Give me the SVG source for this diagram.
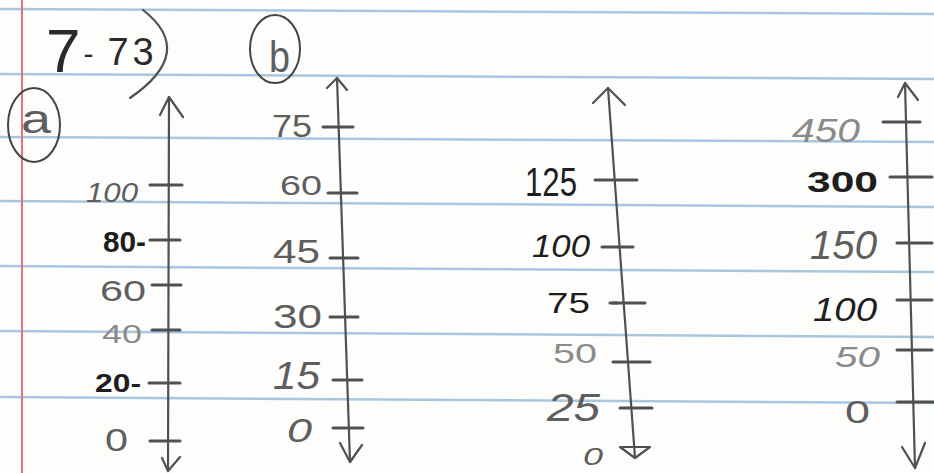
<svg xmlns="http://www.w3.org/2000/svg" width="934" height="473" viewBox="0 0 934 473">
<style>
.rule{stroke:#a8c6de;stroke-width:2.5;fill:none}
.margin{stroke:#e5707e;stroke-width:2;fill:none}
.ax{stroke:#505050;stroke-width:2.2;fill:none;stroke-linecap:round;stroke-linejoin:round}
.tk{stroke:#505050;stroke-width:3;fill:none;stroke-linecap:round}
.t{font-family:"Liberation Sans","DejaVu Sans",sans-serif}
.g{fill:#5e5e5e}
.lg{fill:#8a8a8a}
.k{fill:#1e1e1e}
.b{font-weight:bold}
.i{font-style:italic}
</style>
<rect x="0" y="0" width="934" height="473" fill="#fdfdfb"/>
<g id="paper">
<line class="rule" x1="0" y1="9" x2="934" y2="14"/>
<line class="rule" x1="0" y1="74" x2="934" y2="79"/>
<line class="rule" x1="0" y1="137" x2="934" y2="142"/>
<line class="rule" x1="0" y1="201" x2="934" y2="207"/>
<line class="rule" x1="0" y1="266" x2="934" y2="272"/>
<line class="rule" x1="0" y1="331" x2="934" y2="337"/>
<line class="rule" x1="0" y1="397" x2="934" y2="403"/>
<line class="margin" x1="22" y1="0" x2="22" y2="473"/>
</g>
<g id="title">
<text class="t" fill="#2a2a2a" x="46" y="72"><tspan font-size="62">7</tspan><tspan font-size="30" dx="3" dy="-8">-</tspan><tspan font-size="38" dx="14" dy="1" letter-spacing="4">73</tspan></text>
<path class="ax" d="M143,10 Q197,52 130,98" stroke="#333"/>
</g>
<g id="label-a">
<ellipse cx="34" cy="125" rx="26" ry="37" fill="none" stroke="#444" stroke-width="2"/>
<text class="t g" font-size="40" x="21" y="133" textLength="30" lengthAdjust="spacingAndGlyphs">a</text>
</g>
<g id="label-b">
<ellipse cx="275" cy="49" rx="25" ry="34" fill="none" stroke="#444" stroke-width="2"/>
<text class="t g" font-size="44" x="269" y="72" textLength="21" lengthAdjust="spacingAndGlyphs">b</text>
</g>
<g id="axis-a">
<path class="ax" d="M169,97 L168,470"/>
<path class="ax" d="M160,115 L169,97 L183,117"/>
<path class="ax" d="M162,458 L168,471 L180,457"/>
<path class="tk" d="M150,185 H182 M150,240 H180 M152,285 H181 M152,330 H180 M149,383 H180 M150,441 H180"/>
<text class="t g i" font-size="28" x="86" y="202" textLength="52" lengthAdjust="spacingAndGlyphs">100</text>
<text class="t k b" font-size="30" x="103" y="252" textLength="43" lengthAdjust="spacingAndGlyphs">80-</text>
<text class="t g" font-size="30" x="100" y="301" textLength="46" lengthAdjust="spacingAndGlyphs">60</text>
<text class="t lg" font-size="26" x="102" y="343" textLength="40" lengthAdjust="spacingAndGlyphs">40</text>
<text class="t k b" font-size="25" x="95" y="392" textLength="46" lengthAdjust="spacingAndGlyphs">20-</text>
<text class="t g" font-size="32" x="105" y="451" textLength="23" lengthAdjust="spacingAndGlyphs">0</text>
</g>
<g id="axis-b">
<path class="ax" d="M337,78 L350,462"/>
<path class="ax" d="M327,88 L337,78 L347,90"/>
<path class="ax" d="M340,443 L350,462 L362,445"/>
<path class="tk" d="M323,127 H353 M328,193 H357 M330,258 H358 M330,317 H358 M333,380 H362 M333,428 H363"/>
<text class="t g" font-size="32" x="272" y="137" textLength="40" lengthAdjust="spacingAndGlyphs">75</text>
<text class="t g" font-size="28" x="280" y="195" textLength="42" lengthAdjust="spacingAndGlyphs">60</text>
<text class="t g" font-size="34" x="273" y="263" textLength="47" lengthAdjust="spacingAndGlyphs">45</text>
<text class="t g" font-size="34" x="273" y="328" textLength="49" lengthAdjust="spacingAndGlyphs">30</text>
<text class="t g i" font-size="38" x="273" y="389" textLength="47" lengthAdjust="spacingAndGlyphs">15</text>
<text class="t g i" font-size="34" x="287" y="442" textLength="25" lengthAdjust="spacingAndGlyphs">0</text>
</g>
<g id="axis-c">
<path class="ax" d="M608,88 L635,458"/>
<path class="ax" d="M593,103 L608,88 L625,105"/>
<path class="ax" d="M620,447 L650,447 L635,458 Z"/>
<path class="tk" d="M595,180 H637 M602,247 H633 M613,303 H645 M613,362 H650 M620,408 H652"/>
<path class="tk" d="M610,303 H617" stroke="#111"/>
<text class="t k" font-size="40" x="525" y="196" textLength="52" lengthAdjust="spacingAndGlyphs">125</text>
<text class="t k i" font-size="32" x="532" y="257" textLength="58" lengthAdjust="spacingAndGlyphs">100</text>
<text class="t k" font-size="30" x="547" y="313" textLength="43" lengthAdjust="spacingAndGlyphs">75</text>
<text class="t lg" font-size="28" x="553" y="363" textLength="44" lengthAdjust="spacingAndGlyphs">50</text>
<text class="t g i" font-size="38" x="547" y="421" textLength="53" lengthAdjust="spacingAndGlyphs">25</text>
<text class="t g i" font-size="24" x="583" y="465" textLength="20" lengthAdjust="spacingAndGlyphs">0</text>
</g>
<g id="axis-d">
<path class="ax" d="M905,83 L915,468"/>
<path class="ax" d="M898,97 L905,83 L918,100"/>
<path class="ax" d="M902,447 L915,468 L925,443"/>
<path class="tk" d="M883,122 H920 M890,177 H932 M897,243 H932 M897,300 H932 M897,350 H932 M897,402 H934"/>
<text class="t lg i" font-size="34" x="792" y="142" textLength="68" lengthAdjust="spacingAndGlyphs">450</text>
<text class="t k b" font-size="30" x="807" y="192" textLength="71" lengthAdjust="spacingAndGlyphs">300</text>
<text class="t g i" font-size="40" x="810" y="259" textLength="67" lengthAdjust="spacingAndGlyphs">150</text>
<text class="t k i" font-size="34" x="813" y="321" textLength="64" lengthAdjust="spacingAndGlyphs">100</text>
<text class="t lg i" font-size="29" x="835" y="367" textLength="45" lengthAdjust="spacingAndGlyphs">50</text>
<text class="t g" font-size="32" x="845" y="423" textLength="25" lengthAdjust="spacingAndGlyphs">0</text>
</g>
</svg>
